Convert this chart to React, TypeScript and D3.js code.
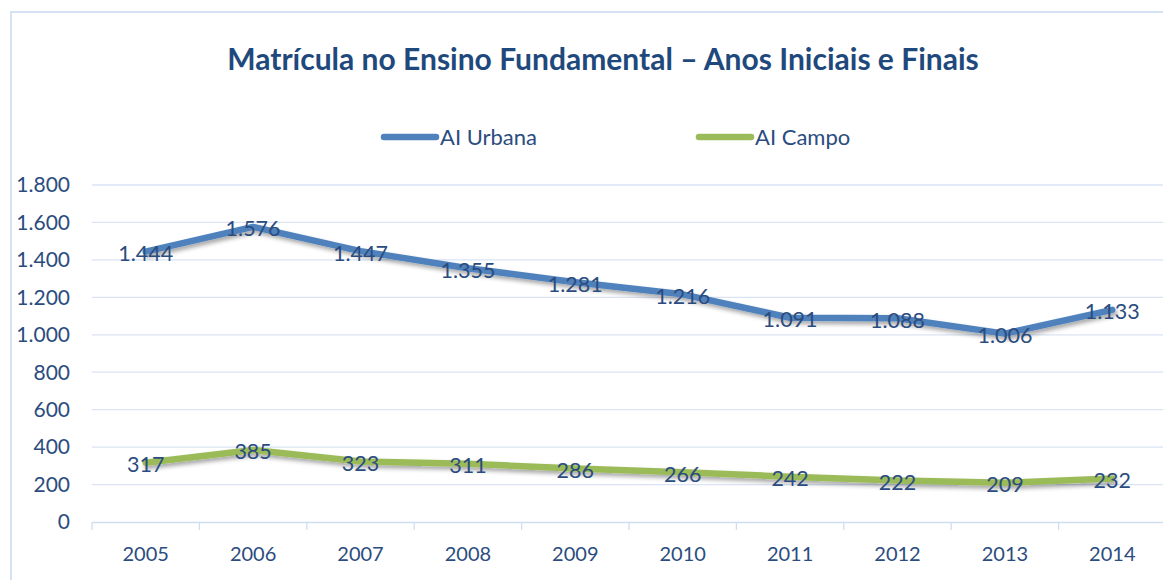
import React, { useEffect, useRef } from 'react';
import * as d3 from 'd3';

const years = ['2005', '2006', '2007', '2008', '2009', '2010', '2011', '2012', '2013', '2014'];
const urbana = [1444, 1576, 1447, 1355, 1281, 1216, 1091, 1088, 1006, 1133];
const campo = [317, 385, 323, 311, 286, 266, 242, 222, 209, 232];
const yTicks = [0, 200, 400, 600, 800, 1000, 1200, 1400, 1600, 1800];
const seriesNames = ['AI Urbana', 'AI Campo'];
const seriesColors = ['#4F81BD', '#9BBB59'];

const title = 'Matrícula no Ensino Fundamental – Anos Iniciais e Finais';

const fmt = (v: number) => d3.format(',')(v).replace(/,/g, '.');

export default function App() {
  const ref = useRef<SVGSVGElement>(null);

  useEffect(() => {
    document.body.style.margin = '0';
    const width = 1163;
    const height = 580;
    const svg = d3.select(ref.current);
    svg.selectAll('*').remove();

    const font = 'Lato, "Open Sans", sans-serif';
    const textColor = '#2B4C7E';

    // drop shadow for lines
    const defs = svg.append('defs');
    const f = defs.append('filter').attr('id', 'shadow').attr('x', '-5%').attr('y', '-50%')
      .attr('width', '110%').attr('height', '200%');
    f.append('feDropShadow').attr('dx', 2).attr('dy', 3).attr('stdDeviation', 2)
      .attr('flood-color', '#000').attr('flood-opacity', 0.35);

    svg.append('rect').attr('width', width).attr('height', height).attr('fill', '#fff');

    // chart frame
    svg.append('rect')
      .attr('x', 11).attr('y', 12).attr('width', width).attr('height', height)
      .attr('fill', 'none').attr('stroke', '#D5E2F3').attr('stroke-width', 2);

    svg.append('text')
      .attr('x', 603).attr('y', 70)
      .attr('text-anchor', 'middle')
      .style('font-family', font).style('font-weight', 'bold').style('font-size', '30px')
      .attr('fill', '#1F497D')
      .text(title);

    const left = 92;
    const right = 1166;
    const top = 185;
    const bottom = 522;

    const x = d3.scaleBand().domain(years).range([left, right]);
    const y = d3.scaleLinear().domain([0, 1800]).range([bottom, top]);

    // gridlines
    svg.append('g').selectAll('line').data(yTicks.slice(1)).enter().append('line')
      .attr('x1', left).attr('x2', width).attr('y1', d => y(d)).attr('y2', d => y(d))
      .attr('stroke', '#D9E4F4').attr('stroke-width', 1.3);

    // x axis
    const xAxis = svg.append('g').attr('transform', `translate(0,${bottom})`)
      .call(d3.axisBottom(x).tickSize(0).tickPadding(25));
    xAxis.select('.domain').attr('stroke', '#D0DDF0').attr('stroke-width', 1.3);
    xAxis.selectAll('text').style('font-family', font).style('font-size', '20px').attr('fill', textColor);
    svg.append('g').selectAll('line').data(years).enter().append('line')
      .attr('x1', d => x(d)!).attr('x2', d => x(d)!).attr('y1', bottom).attr('y2', bottom + 8)
      .attr('stroke', '#D0DDF0').attr('stroke-width', 1.3);

    // y axis labels
    svg.append('g').selectAll('text').data(yTicks).enter().append('text')
      .attr('x', 70).attr('y', d => y(d)).attr('dy', '0.35em')
      .attr('text-anchor', 'end')
      .style('font-family', font).style('font-size', '21px').attr('fill', textColor)
      .text(d => fmt(d));

    const cx = (d: string) => x(d)! + x.bandwidth() / 2;
    const line = d3.line<number>().x((_, i) => cx(years[i])).y(d => y(d));

    [urbana, campo].forEach((vals, si) => {
      svg.append('path').datum(vals)
        .attr('d', line)
        .attr('fill', 'none')
        .attr('stroke', seriesColors[si])
        .attr('stroke-width', 6.5)
        .attr('stroke-linecap', 'round')
        .attr('stroke-linejoin', 'round')
        .attr('filter', 'url(#shadow)');
    });

    [urbana, campo].forEach(vals => {
      svg.append('g').selectAll('text').data(vals).enter().append('text')
        .attr('x', (_, i) => cx(years[i]))
        .attr('y', d => y(d) + 2)
        .attr('dy', '0.35em')
        .attr('text-anchor', 'middle')
        .style('font-family', font).style('font-size', '21.5px').attr('fill', textColor)
        .text(d => fmt(d));
    });

    // legend
    const legendX = [382, 697];
    seriesNames.forEach((name, i) => {
      const g = svg.append('g').attr('transform', `translate(${legendX[i]},137)`);
      g.append('line').attr('x1', 2).attr('x2', 54).attr('y1', 0).attr('y2', 0)
        .attr('stroke', seriesColors[i]).attr('stroke-width', 6.5).attr('stroke-linecap', 'round');
      g.append('text').attr('x', 58).attr('dy', '0.35em')
        .style('font-family', font).style('font-size', '22px').attr('fill', textColor)
        .text(name);
    });
  }, []);

  return <svg ref={ref} width={1163} height={580} style={{ display: 'block' }} />;
}
